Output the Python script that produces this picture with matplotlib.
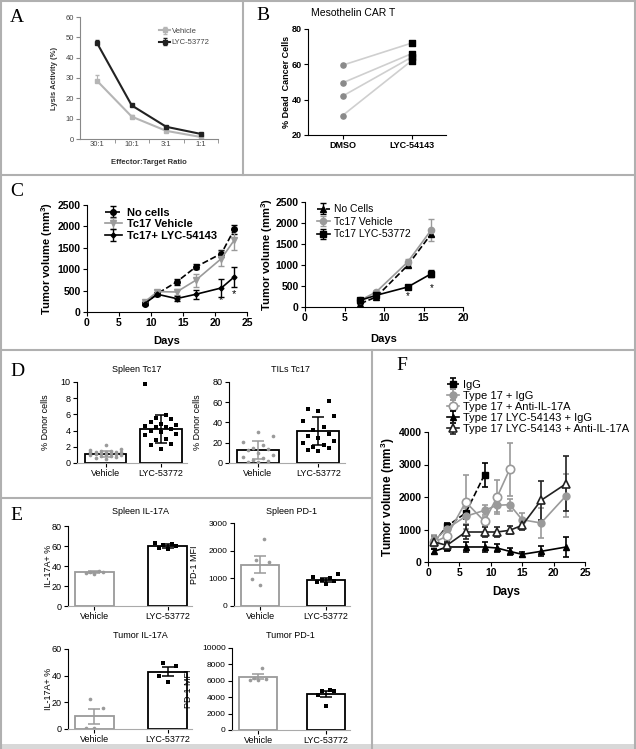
import numpy as np
import matplotlib.pyplot as plt
from matplotlib.lines import Line2D
from matplotlib.patches import Rectangle

plt.rcParams['font.family'] = ['Liberation Sans', 'DejaVu Sans']
plt.rcParams['mathtext.fontset'] = 'custom'
plt.rcParams['mathtext.rm'] = 'Liberation Sans'
plt.rcParams['mathtext.bf'] = 'Liberation Sans:bold'

W, H = 636, 749
GREY = '#9a9a9a'

# ---- data ----
# A
ratio_labels = ['30:1', '10:1', '3:1', '1:1']
a_vehicle = [28.5, 11.0, 4.0, 1.0]
a_vehicle_err = [3.0, 0.8, 0.4, 0.3]
a_lyc = [47.0, 16.5, 6.0, 2.5]
a_lyc_err = [1.5, 0.8, 0.4, 0.3]

# B
b_groups = ['DMSO', 'LYC-54143']
b_dmso = [59.5, 49.5, 42.0, 31.0]
b_lyc = [72.0, 66.0, 64.0, 62.0]

# C left
cl_days = [9, 11, 14, 17, 21, 23]
cl_nocells = [196, 430, 702, 1053, 1366, 1928]
cl_nocells_err = [40, 40, 60, 60, 80, 110]
cl_vehicle = [234, 475, 468, 742, 1249, 1678]
cl_vehicle_err = [30, 40, 60, 150, 180, 230]
cl_lyc = [196, 414, 313, 414, 562, 819]
cl_lyc_err = [30, 40, 60, 110, 200, 240]
cl_star_days = [21, 23]
cl_star_y = [275, 430]

# C right
cr_days = [7, 9, 13, 16]
cr_nocells = [80, 238, 992, 1746]
cr_nocells_err = [20, 30, 50, 60]
cr_vehicle = [160, 357, 1071, 1841]
cr_vehicle_err = [20, 30, 60, 260]
cr_lyc = [160, 278, 476, 794]
cr_lyc_err = [20, 30, 40, 80]
cr_star_days = [13, 16]
cr_star_y = [262, 452]

# D
bar_groups = ['Vehicle', 'LYC-53772']
d_spleen_veh = [0.5, 0.6, 0.8, 0.9, 1.0, 1.0, 1.1, 1.1, 1.2, 1.2, 1.3, 1.3,
                1.4, 1.4, 1.5, 1.5, 1.6, 1.0, 0.9, 1.7, 2.2, 1.3]
d_spleen_lyc = [9.8, 5.9, 5.6, 5.4, 5.0, 4.8, 4.7, 4.6, 4.5, 4.4, 4.2, 4.0,
                3.8, 3.6, 3.4, 3.0, 2.8, 2.4, 2.2, 1.7]
d_spleen_mean = [1.1, 4.2]
d_spleen_err = [0.4, 1.75]
d_tils_veh = [31, 27, 21, 18, 15, 14, 13, 10, 8, 6, 5, 3, 2, 1, 0.5]
d_tils_lyc = [61, 53, 51, 46, 41, 36, 33, 29, 27, 25, 22, 20, 18, 16, 15, 13, 12]
d_tils_mean = [12.5, 31.5]
d_tils_err = [9.0, 14.0]

# E
e_sp_il_veh = [35, 34.5, 34, 33.5, 32]
e_sp_il_lyc = [63, 62, 61, 60, 58, 57]
e_sp_il_mean = [34, 60.5]
e_sp_il_err = [0.8, 2.0]
e_sp_pd_veh = [2420, 1650, 1600, 980, 750]
e_sp_pd_lyc = [1150, 1050, 1000, 950, 900, 850, 780]
e_sp_pd_mean = [1500, 950]
e_sp_pd_err = [300, 80]
e_tu_il_veh = [22.5, 15.5, 0.5, 0.5]
e_tu_il_lyc = [49.5, 47, 40, 35.5]
e_tu_il_mean = [9.5, 43]
e_tu_il_err = [5.7, 3.5]
e_tu_pd_veh = [7600, 6400, 6200, 6100, 6100]
e_tu_pd_lyc = [4900, 4800, 4700, 4300, 2900]
e_tu_pd_mean = [6500, 4400]
e_tu_pd_err = [300, 400]

# F
f_labels = ['IgG', 'Type 17 + IgG', 'Type 17 + Anti-IL-17A',
            'Type 17 LYC-54143 + IgG', 'Type 17 LYC-54143 + Anti-IL-17A']
f_igg_days = [1, 3, 6, 9]
f_igg = [615, 1097, 1508, 2687]
f_igg_err = [200, 100, 200, 370]
f_t17_days = [1, 3, 6, 9, 11, 13, 15, 18, 22]
f_t17 = [667, 1025, 1405, 1590, 1744, 1764, 1300, 1200, 2041]
f_t17_err = [150, 150, 250, 150, 200, 180, 200, 450, 670]
f_t17anti_days = [1, 3, 6, 9, 11, 13]
f_t17anti = [615, 790, 1846, 1250, 2000, 2851]
f_t17anti_err = [150, 150, 820, 150, 530, 820]
f_lyc_days = [1, 3, 6, 9, 11, 13, 15, 18, 22]
f_lyc = [328, 462, 462, 462, 430, 328, 236, 328, 462]
f_lyc_err = [80, 120, 150, 150, 120, 100, 80, 150, 320]
f_lycanti_days = [1, 3, 6, 9, 11, 13, 15, 18, 22]
f_lycanti = [615, 513, 923, 923, 923, 975, 1128, 1897, 2410]
f_lycanti_err = [100, 100, 230, 150, 150, 120, 150, 600, 850]

fig = plt.figure(figsize=(W / 100, H / 100), dpi=100)


def box(x0, y0, x1, y1):
    ax = fig.add_axes([x0 / W, 1 - y1 / H, (x1 - x0) / W, (y1 - y0) / H])
    ax.spines['top'].set_visible(False)
    ax.spines['right'].set_visible(False)
    ax.tick_params(length=3, width=0.8, pad=1.5)
    return ax


def ylab(ax, text, px, size, bold=True, color='black'):
    x0, x1 = ax.get_position().x0 * W, ax.get_position().x1 * W
    ax.set_ylabel(text, fontsize=size, fontweight='bold' if bold else 'normal', color=color)
    ax.yaxis.set_label_coords((px - x0) / (x1 - x0), 0.5)


def xlab(ax, text, py, size, bold=True, color='black'):
    y0 = (1 - ax.get_position().y1) * H
    y1 = (1 - ax.get_position().y0) * H
    ax.set_xlabel(text, fontsize=size, fontweight='bold' if bold else 'normal', color=color)
    ax.xaxis.set_label_coords(0.5, (y1 - py) / (y1 - y0))


def bold_ticks(ax):
    for t in ax.get_xticklabels() + ax.get_yticklabels():
        t.set_fontweight('bold')


def letter(x, y, s):
    fig.text(x / W, 1 - y / H, s, family='Liberation Serif', fontsize=14,
             va='center', ha='left')


def spread(vals, width):
    vals = np.asarray(vals, dtype=float)
    order = np.argsort(vals)
    pattern = np.array([0, -2, 2, -1, 1, -3, 3])
    off = np.zeros(len(vals))
    off[order] = pattern[np.arange(len(vals)) % len(pattern)] * width / 6
    return off


# ---- panel borders ----
def hline(y, x0, x1):
    fig.add_artist(Line2D([x0 / W, x1 / W], [1 - y / H, 1 - y / H], color='#b0b0b0', lw=1.5))


def vline(x, y0, y1):
    fig.add_artist(Line2D([x / W, x / W], [1 - y0 / H, 1 - y1 / H], color='#b0b0b0', lw=1.5))


hline(1, 0, W)
hline(175, 0, W)
hline(350, 0, W)
hline(498, 0, 372)
vline(1, 0, H)
vline(W - 1, 0, H)
vline(243, 0, 175)
vline(372, 350, H)
fig.add_artist(Rectangle((0, 0), 1, 5 / H, transform=fig.transFigure, color='#d8d8d8', lw=0))

# ---- A ----
letter(10, 18, 'A')
ax = box(80, 17, 218, 139)
xa = np.arange(len(ratio_labels))
ax.errorbar(xa, a_vehicle, yerr=[np.zeros(4), a_vehicle_err], color='#b5b5b5', lw=1.5,
            marker='s', ms=2.5, capsize=1.5, elinewidth=0.8, label='Vehicle')
ax.errorbar(xa, a_lyc, yerr=[np.zeros(4), a_lyc_err], color='#222222', lw=1.5,
            marker='s', ms=3, capsize=1.5, elinewidth=0.8, label='LYC-53772')
ax.set_xlim(-0.5, 3.5)
ax.set_ylim(0, 60)
ax.set_yticks(range(0, 61, 10))
ax.set_xticks(xa)
ax.set_xticklabels(ratio_labels)
ax.set_xticks(np.arange(0.5, 4, 1), minor=True)
ax.tick_params(axis='x', which='major', length=0)
ax.tick_params(axis='x', which='minor', length=3, color='#888888')
ax.tick_params(labelsize=5.5, labelcolor='#444444', color='#888888')
for s in ('left', 'bottom'):
    ax.spines[s].set_color('#888888')
ylab(ax, 'Lysis Activity (%)', 58, 5.5, color='#333333')
xlab(ax, 'Effector:Target Ratio', 159, 5.5, color='#333333')
leg = ax.legend(loc='upper left', bbox_to_anchor=(155 / W, 1 - 24 / H),
                bbox_transform=fig.transFigure, frameon=False, fontsize=5.5,
                handlelength=1.5, handletextpad=0.2, labelspacing=0.5, borderpad=0)
for t in leg.get_texts():
    t.set_color('#444444')

# ---- B ----
letter(256, 15, 'B')
fig.text(353 / W, 1 - 13 / H, 'Mesothelin CAR T', fontsize=7.5, ha='center', va='center')
ax = box(308, 29, 446, 135)
for d, l in zip(b_dmso, b_lyc):
    ax.plot([0, 1], [d, l], color='#cfcfcf', lw=1.2, zorder=1)
ax.scatter(np.zeros(len(b_dmso)), b_dmso, s=14, color='#8a8a8a', zorder=3)
ax.scatter(np.ones(len(b_lyc)), b_lyc, s=18, marker='s', color='black', zorder=3)
ax.set_xlim(-0.5, 1.5)
ax.set_ylim(20, 80)
ax.set_yticks([20, 40, 60, 80])
ax.set_xticks([0, 1])
ax.set_xticklabels(b_groups)
ax.tick_params(labelsize=6.5)
bold_ticks(ax)
ylab(ax, '% Dead  Cancer Cells', 291, 6.5)

# ---- C left ----
letter(10, 192, 'C')
ax = box(87, 205, 247, 312)
ax.errorbar(cl_days, cl_nocells, yerr=cl_nocells_err, color='black', ls='--', lw=1.2,
            marker='o', ms=4, capsize=2, elinewidth=1, label='No cells')
ax.errorbar(cl_days, cl_vehicle, yerr=cl_vehicle_err, color=GREY, lw=1.2,
            marker='v', ms=4.5, capsize=2, elinewidth=1, label='Tc17 Vehicle')
ax.errorbar(cl_days, cl_lyc, yerr=cl_lyc_err, color='black', lw=1.2,
            marker='D', ms=2.5, capsize=2, elinewidth=1, label='Tc17+ LYC-54143')
for d, y in zip(cl_star_days, cl_star_y):
    ax.text(d, y, '*', ha='center', va='center', fontsize=8)
ax.set_xlim(0, 25)
ax.set_ylim(0, 2500)
ax.set_xticks(range(0, 26, 5))
ax.set_yticks(range(0, 2501, 500))
ax.tick_params(labelsize=7.5)
bold_ticks(ax)
ylab(ax, r'Tumor volume (mm$^{\mathbf{3}}$)', 55, 8)
xlab(ax, 'Days', 336, 8)
ax.legend(loc='upper left', bbox_to_anchor=(99 / W, 1 - 202 / H),
          bbox_transform=fig.transFigure, frameon=False,
          prop={'size': 8, 'weight': 'bold'}, handlelength=1.6, handletextpad=0.4,
          labelspacing=0.15, borderpad=0)

# ---- C right ----
ax = box(305, 202, 463, 307)
ax.errorbar(cr_days, cr_nocells, yerr=cr_nocells_err, color='black', ls='--', lw=1.2,
            marker='^', ms=4, capsize=2, elinewidth=1, label='No Cells')
ax.errorbar(cr_days, cr_vehicle, yerr=cr_vehicle_err, color=GREY, lw=1.2,
            marker='o', ms=4.5, capsize=2, elinewidth=1, label='Tc17 Vehicle')
ax.errorbar(cr_days, cr_lyc, yerr=cr_lyc_err, color='black', lw=1.2,
            marker='s', ms=4, capsize=2, elinewidth=1, label='Tc17 LYC-53772')
for d, y in zip(cr_star_days, cr_star_y):
    ax.text(d, y, '*', ha='center', va='center', fontsize=7)
ax.set_xlim(0, 20)
ax.set_ylim(0, 2500)
ax.set_xticks(range(0, 21, 5))
ax.set_yticks(range(0, 2501, 500))
ax.tick_params(labelsize=7.5)
bold_ticks(ax)
ylab(ax, r'Tumor volume (mm$^{\mathbf{3}}$)', 275, 8)
xlab(ax, 'Days', 334, 8)
ax.legend(loc='upper left', bbox_to_anchor=(312 / W, 1 - 199 / H),
          bbox_transform=fig.transFigure, frameon=False, fontsize=7.5,
          handlelength=1.2, handletextpad=0.4, labelspacing=0.25, borderpad=0)


# ---- bar panels ----
def bar_panel(box_px, veh, lyc, means, errs, ylim, yticks, ylabel, ylabel_px,
              title, title_px, veh_edge, step, label_size=6.5, vx=0.55, tick_size=None):
    ax = box(*box_px)
    ax.bar([0, step], means, width=0.76, color='white',
           edgecolor=[veh_edge, 'black'], lw=1.3, zorder=1)
    ax.errorbar([0], [means[0]], yerr=[errs[0]], color=veh_edge if veh_edge != 'black' else GREY,
                capsize=4, elinewidth=1.1, capthick=1.1, ls='none', zorder=3)
    ax.errorbar([step], [means[1]], yerr=[errs[1]], color='black',
                capsize=4, elinewidth=1.1, capthick=1.1, ls='none', zorder=3)
    ax.scatter(0 + spread(veh, vx), veh, s=7, color=GREY, zorder=2, lw=0)
    ax.scatter(step + spread(lyc, vx), lyc, s=9, marker='s', color='black', zorder=2, lw=0)
    ax.set_xlim(-0.52, step + 0.48)
    ax.set_ylim(*ylim)
    ax.set_yticks(yticks)
    ax.set_xticks([0, step])
    ax.set_xticklabels(bar_groups)
    ax.tick_params(labelsize=label_size)
    if tick_size:
        ax.tick_params(axis='y', labelsize=tick_size)
    ax.spines['bottom'].set_color('#aaaaaa')
    ylab(ax, ylabel, ylabel_px, label_size, bold=False)
    fig.text(title_px[0] / W, 1 - title_px[1] / H, title, fontsize=6.5, ha='center', va='center')
    return ax


letter(10, 372, 'D')
bar_panel((77, 382, 187, 463), d_spleen_veh, d_spleen_lyc, d_spleen_mean, d_spleen_err,
          (0, 10), range(0, 11, 2), '% Donor cells', 50, 'Spleen Tc17', (137, 369), 'black', 1.0)
bar_panel((229, 382, 345, 463), d_tils_veh, d_tils_lyc, d_tils_mean, d_tils_err,
          (0, 80), range(0, 81, 20), '% Donor cells', 202, 'TILs Tc17', (290, 369), 'black', 1.1)

letter(10, 515, 'E')
bar_panel((68, 526, 192, 606), e_sp_il_veh, e_sp_il_lyc, e_sp_il_mean, e_sp_il_err,
          (0, 80), range(0, 81, 20), 'IL-17A+ %', 53, 'Spleen IL-17A', (140, 512), GREY, 1.45, vx=0.5)
bar_panel((234, 523, 350, 606), e_sp_pd_veh, e_sp_pd_lyc, e_sp_pd_mean, e_sp_pd_err,
          (0, 3000), range(0, 3001, 1000), 'PD-1 MFI', 199, 'Spleen PD-1', (292, 512), GREY, 1.3,
          vx=0.5, tick_size=6)
bar_panel((68, 649, 192, 729), e_tu_il_veh, e_tu_il_lyc, e_tu_il_mean, e_tu_il_err,
          (0, 60), range(0, 61, 20), 'IL-17A+ %', 53, 'Tumor IL-17A', (140, 635), GREY, 1.45, vx=0.5)
bar_panel((232, 648, 350, 730), e_tu_pd_veh, e_tu_pd_lyc, e_tu_pd_mean, e_tu_pd_err,
          (0, 10000), range(0, 10001, 2000), 'PD-1 MFI', 193, 'Tumor PD-1', (290, 635), GREY, 1.35,
          vx=0.5, tick_size=6)

# ---- F ----
letter(396, 365, 'F')
ax = box(428, 432, 585, 562)
kw = dict(capsize=2.5, elinewidth=1.2, capthick=1.2, lw=1.2)
ax.errorbar(f_igg_days, f_igg, yerr=f_igg_err, color='black', ls='--', marker='s', ms=5,
            label=f_labels[0], **kw)
ax.errorbar(f_t17_days, f_t17, yerr=f_t17_err, color=GREY, marker='o', ms=5,
            label=f_labels[1], **kw)
ax.errorbar(f_t17anti_days, f_t17anti, yerr=f_t17anti_err, color=GREY, marker='o', ms=6,
            mfc='white', mew=1.2, label=f_labels[2], **kw)
ax.errorbar(f_lyc_days, f_lyc, yerr=f_lyc_err, color='black', marker='^', ms=5,
            label=f_labels[3], **kw)
ax.errorbar(f_lycanti_days, f_lycanti, yerr=f_lycanti_err, color='#222222', marker='^', ms=6,
            mfc='white', mew=1.2, label=f_labels[4], **kw)
ax.set_xlim(0, 25)
ax.set_ylim(0, 4000)
ax.set_xticks(range(0, 26, 5))
ax.set_yticks(range(0, 4001, 1000))
ax.tick_params(labelsize=7.5)
bold_ticks(ax)
ylab(ax, r'Tumor volume (mm$^{\mathbf{3}}$)', 397, 8.5)
xlab(ax, 'Days', 586, 8.5)
ax.legend(loc='upper left', bbox_to_anchor=(441 / W, 1 - 374 / H),
          bbox_transform=fig.transFigure, frameon=False, fontsize=8,
          handlelength=1.1, handletextpad=0.4, labelspacing=0.1, borderpad=0)

fig.savefig('out.png', dpi=100)
